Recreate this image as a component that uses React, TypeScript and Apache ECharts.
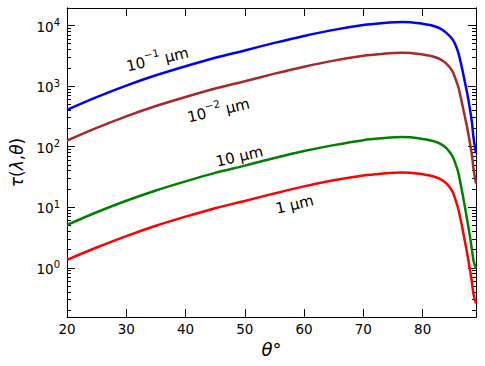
import React, { useEffect, useRef } from "react";
import * as echarts from "echarts";

// Zenith angle θ in degrees
const thetaDeg = [20, 25, 30, 35, 40, 45, 50, 55, 60, 65, 70, 73, 76.5, 78, 80, 81, 82, 83, 84, 85, 85.5, 86, 86.5, 87, 87.5, 88, 88.3, 88.6, 89];

// τ(λ,θ) per wavelength
const tau_0p1um = [406, 658, 1019, 1507, 2128, 2938, 3873, 5164, 6730, 8472, 10190, 10910, 11430, 11350, 10670, 10300, 9730, 8870, 7550, 6000, 4875, 3614, 2280, 1343, 773, 406, 256, 137, 77.3];
const tau_0p01um = [126, 204, 316, 468, 661, 912, 1202, 1603, 2089, 2630, 3162, 3388, 3548, 3524, 3311, 3199, 3020, 2754, 2344, 1778, 1349, 977, 603, 355, 209, 112, 74.1, 41.7, 24.5];
const tau_10um = [5.09, 8.26, 12.8, 18.9, 26.7, 36.9, 48.6, 64.9, 84.5, 106, 128, 137, 144, 143, 134, 129, 122, 111, 94.8, 70.3, 53.3, 37.8, 21.7, 11.9, 6.27, 3.21, 2.03, 1.28, 0.97];
const tau_1um = [1.35, 2.16, 3.34, 4.94, 6.98, 9.64, 12.7, 16.9, 22.1, 27.8, 33.4, 35.8, 37.5, 37.2, 35.0, 33.8, 31.9, 29.1, 24.8, 18.4, 13.6, 9.42, 5.68, 3.19, 1.75, 0.9, 0.594, 0.358, 0.259];

// axis ticks
const xTicks = [20, 30, 40, 50, 60, 70, 80];
const yMajorExponents = [0, 1, 2, 3, 4];
const yMinorDecades = [-1, 0, 1, 2, 3];
const yMinorMultipliers = [2, 3, 4, 5, 6, 7, 8, 9];
const xRange = [20, 89];
const yRange = [0.154, 19450];

const seriesDefs = [
  { name: "10⁻¹ μm", values: tau_0p1um, color: "#0000ff" },
  { name: "10⁻² μm", values: tau_0p01um, color: "#a52a2a" },
  { name: "10 μm", values: tau_10um, color: "#008000" },
  { name: "1 μm", values: tau_1um, color: "#ff0000" },
];

const FONT = "DejaVu Sans";

export default function App() {
  const ref = useRef<HTMLDivElement>(null);
  useEffect(() => {
    document.body.style.margin = "0";
    if (!ref.current) return;
    const chart = echarts.init(ref.current, undefined, { renderer: "svg" });
    const yMin = Math.log10(yRange[0]);
    const yMax = Math.log10(yRange[1]);
    const minorTicks: number[] = [];
    yMinorDecades.forEach((d) =>
      yMinorMultipliers.forEach((m) => {
        const v = Math.log10(m) + d;
        if (v >= yMin && v <= yMax) minorTicks.push(v);
      })
    );
    const axisLine = { show: true, onZero: false, lineStyle: { color: "#000", width: 1 } };
    const baseY = {
      type: "value",
      min: yMin,
      max: yMax,
      splitLine: { show: false },
      axisLine,
    };
    const supRich = {
      b: { fontSize: 13.5, fontFamily: FONT, color: "#000", lineHeight: 16, verticalAlign: "bottom" },
      s: { fontSize: 10, fontFamily: FONT, color: "#000", lineHeight: 10, verticalAlign: "top" },
    };
    const annRich = {
      a: { fontSize: 15, fontFamily: FONT, fill: "#000", lineHeight: 20, verticalAlign: "bottom" },
      s: { fontSize: 10.5, fontFamily: FONT, fill: "#000", lineHeight: 12, verticalAlign: "top" },
    };
    const rot = (13 * Math.PI) / 180;
    const ann = (text: string, x: number, y: number) => ({
      type: "text",
      x,
      y,
      rotation: rot,
      z: 100,
      style: {
        text,
        rich: annRich,
        align: "center",
        verticalAlign: "middle",
        fill: "#000",
        fontFamily: FONT,
        fontSize: 15,
      },
    });
    const option = {
      animation: false,
      textStyle: { fontFamily: FONT },
      grid: { left: 61, right: 9, top: 8, bottom: 49, containLabel: false },
      xAxis: [
        {
          type: "value",
          position: "bottom",
          min: xRange[0],
          max: xRange[1],
          interval: 10,
          splitLine: { show: false },
          axisLine,
          axisTick: { inside: true, length: 8, lineStyle: { color: "#000" }, customValues: xTicks },
          axisLabel: { customValues: xTicks, color: "#000", fontSize: 13.5, fontFamily: FONT, margin: 5 },
          name: "{i|θ}{n|°}",
          nameLocation: "middle",
          nameGap: 15,
          nameTextStyle: {
            rich: {
              i: { fontSize: 18, fontStyle: "italic", fontFamily: FONT, color: "#000" },
              n: { fontSize: 18, fontFamily: FONT, color: "#000" },
            },
          },
        },
        {
          type: "value",
          position: "top",
          min: xRange[0],
          max: xRange[1],
          interval: 10,
          splitLine: { show: false },
          axisLine,
          axisTick: { inside: true, length: 8, lineStyle: { color: "#000" }, customValues: xTicks },
          axisLabel: { show: false },
        },
      ],
      yAxis: [
        {
          ...baseY,
          position: "left",
          axisTick: { inside: true, length: 8, lineStyle: { color: "#000" }, customValues: yMajorExponents },
          axisLabel: {
            customValues: yMajorExponents,
            margin: 7,
            formatter: (v: number) => `{b|10}{s|${Math.round(v)}}`,
            rich: supRich,
          },
          name: "{i|τ}{n|(}{i|λ}{n|,}{i|θ}{n|)}",
          nameLocation: "middle",
          nameGap: 42,
          nameRotate: 90,
          nameTextStyle: {
            rich: {
              i: { fontSize: 17, fontStyle: "italic", fontFamily: FONT, color: "#000" },
              n: { fontSize: 17, fontFamily: FONT, color: "#000" },
            },
          },
        },
        {
          ...baseY,
          position: "left",
          axisTick: { inside: true, length: 4, lineStyle: { color: "#000" }, customValues: minorTicks },
          axisLabel: { show: false },
        },
        {
          ...baseY,
          position: "right",
          axisTick: { inside: true, length: 8, lineStyle: { color: "#000" }, customValues: yMajorExponents },
          axisLabel: { show: false },
        },
        {
          ...baseY,
          position: "right",
          axisTick: { inside: true, length: 4, lineStyle: { color: "#000" }, customValues: minorTicks },
          axisLabel: { show: false },
        },
      ],
      series: seriesDefs.map((s) => ({
        name: s.name,
        type: "line",
        xAxisIndex: 0,
        yAxisIndex: 0,
        showSymbol: false,
        symbol: "none",
        smooth: 0.3,
        lineStyle: { color: s.color, width: 2.5 },
        itemStyle: { color: s.color },
        data: thetaDeg.map((t, i) => [t, Math.log10(s.values[i])]),
      })),
      graphic: [
        ann("{a|10}{s|−1}{a| μm}", 157, 57),
        ann("{a|10}{s|−2}{a| μm}", 218, 108),
        ann("{a|10 μm}", 239, 154),
        ann("{a|1 μm}", 294, 202),
      ],
    };
    chart.setOption(option as any);
    return () => chart.dispose();
  }, []);
  return <div ref={ref} style={{ width: 485, height: 366 }} />;
}
